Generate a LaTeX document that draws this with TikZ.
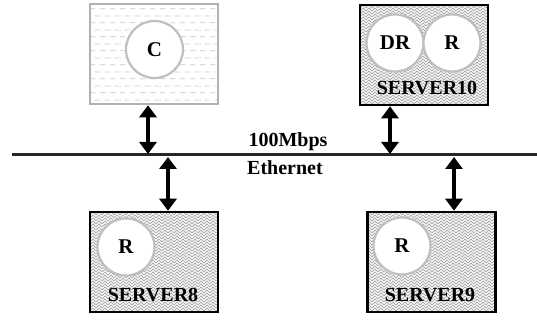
\documentclass[tikz,border=0pt]{standalone}
\usepackage{fontspec}
\setmainfont{Liberation Serif}
\usetikzlibrary{arrows.meta,patterns}

% herringbone-like weave used inside the server boxes
\pgfdeclarepatternformonly{weave}{\pgfqpoint{-1pt}{-1pt}}{\pgfqpoint{7pt}{7pt}}{\pgfqpoint{6pt}{6pt}}{%
  \pgfsetlinewidth{0.9pt}%
  \pgfpathmoveto{\pgfqpoint{0pt}{0pt}}\pgfpathlineto{\pgfqpoint{3pt}{3pt}}\pgfpathlineto{\pgfqpoint{6pt}{0pt}}%
  \pgfpathmoveto{\pgfqpoint{0pt}{3pt}}\pgfpathlineto{\pgfqpoint{3pt}{6pt}}\pgfpathlineto{\pgfqpoint{6pt}{3pt}}%
  \pgfusepath{stroke}}

% staggered horizontal dashes used inside the client box
\pgfdeclarepatternformonly{hdash}{\pgfqpoint{0pt}{0pt}}{\pgfqpoint{10pt}{14pt}}{\pgfqpoint{10pt}{14pt}}{%
  \pgfsetlinewidth{0.8pt}%
  \pgfpathmoveto{\pgfqpoint{0pt}{3.5pt}}\pgfpathlineto{\pgfqpoint{6pt}{3.5pt}}%
  \pgfpathmoveto{\pgfqpoint{5pt}{10.5pt}}\pgfpathlineto{\pgfqpoint{10pt}{10.5pt}}%
  \pgfpathmoveto{\pgfqpoint{0pt}{10.5pt}}\pgfpathlineto{\pgfqpoint{1pt}{10.5pt}}%
  \pgfusepath{stroke}}

\tikzset{
  serverbox/.style={draw=black, line width=2.6pt, rectangle, minimum width=128pt, minimum height=100pt,
    inner sep=0pt, pattern=weave, pattern color=gray!65},
  clientbox/.style={draw=gray!60, line width=2.6pt, rectangle, minimum width=128pt, minimum height=100pt,
    inner sep=0pt, pattern=hdash, pattern color=gray!45},
  role/.style={circle, draw=gray!50, line width=2.2pt, fill=white, minimum size=57pt, inner sep=0pt,
    font=\fontsize{21}{24}\selectfont\bfseries},
  srvlabel/.style={font=\fontsize{20}{24}\selectfont\bfseries, inner sep=0pt},
  netlabel/.style={font=\fontsize{20}{24}\selectfont\bfseries, inner sep=0pt},
  link/.style={line width=3.4pt, {Triangle[width=17pt,length=12pt]}-{Triangle[width=17pt,length=12pt]}},
  bus/.style={line width=3pt, black!85}
}

\begin{document}
\begin{tikzpicture}[x=1pt, y=-1pt]
  \useasboundingbox (0,0) rectangle (537,320);

  % Ethernet backbone
  \coordinate (busL) at (12,155);
  \coordinate (busR) at (537,155);
  \draw[bus] (busL) -- (busR);
  \node[netlabel] (speed) at (288,142) {100Mbps};
  \node[netlabel] (media) at (285,168) {Ethernet};

  % client box
  \node[clientbox] (cbox) at (154,54) {};
  \node[role] (cC) at (154.5,49.5) {C};

  % SERVER10
  \node[serverbox] (s10) at (424,55) {};
  \node[role] (s10dr) at (395,43) {DR};
  \node[role] (s10r) at (452,43) {R};
  \node[srvlabel] (s10lab) at (427,88) {SERVER10};

  % SERVER8
  \node[serverbox] (s8) at (154,262) {};
  \node[role] (s8r) at (126,247) {R};
  \node[srvlabel] (s8lab) at (153,295) {SERVER8};

  % SERVER9
  \node[serverbox] (s9) at (431.5,262) {};
  \node[role] (s9r) at (402,246) {R};
  \node[srvlabel] (s9lab) at (430,295) {SERVER9};

  % taps on the backbone
  \coordinate (tapC) at (148,154);
  \coordinate (tap10) at (390,154);
  \coordinate (tap8) at (168,157);
  \coordinate (tap9) at (454,157);

  \draw[link] (tapC |- cbox.south) -- (tapC);
  \draw[link] (tap10 |- s10.south) -- (tap10);
  \draw[link] (tap8) -- (tap8 |- s8.north);
  \draw[link] (tap9) -- (tap9 |- s9.north);
\end{tikzpicture}
\end{document}
